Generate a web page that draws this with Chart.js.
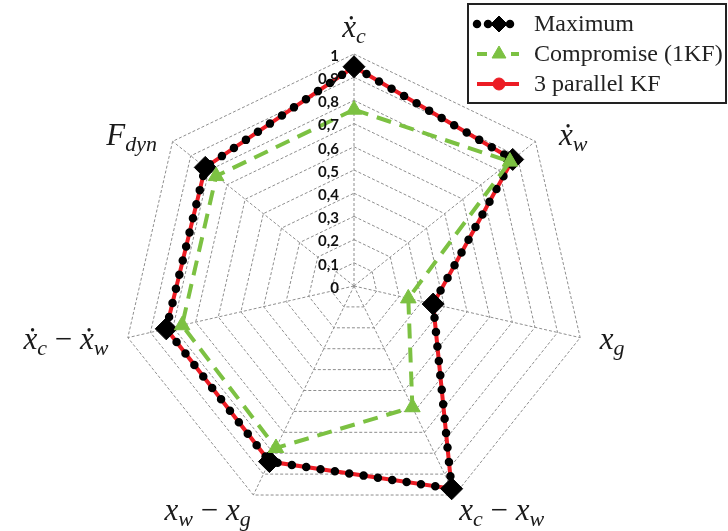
<!DOCTYPE html>
<html>
<head>
<meta charset="utf-8">
<script src="https://cdn.jsdelivr.net/npm/chart.js@4.4.1/dist/chart.umd.min.js"></script>
<style>
  html, body { margin: 0; padding: 0; background: #fff; }
  #wrap { width: 728px; height: 531px; }
</style>
</head>
<body>
<div id="wrap"><canvas id="radarChart" width="728" height="531"></canvas></div>
<script>
// Axis names, underscore marks the subscript part
const axisLabels = ['ẋ_c', 'ẋ_w', 'x_g', 'x_c − x_w', 'x_w − x_g', 'ẋ_c − ẋ_w', 'F_dyn'];
const tickValues = [0, 0.1, 0.2, 0.3, 0.4, 0.5, 0.6, 0.7, 0.8, 0.9, 1];
const tickLabels = ['0', '0,1', '0,2', '0,3', '0,4', '0,5', '0,6', '0,7', '0,8', '0,9', '1'];

// Series
const maximumValues = [0.945, 0.875, 0.35, 0.97, 0.84, 0.83, 0.82];
const compromiseValues = [0.76, 0.86, 0.24, 0.58, 0.775, 0.76, 0.76];
const parallelKFValues = [0.945, 0.875, 0.35, 0.97, 0.84, 0.83, 0.82];

const seriesNames = ['Maximum', 'Compromise (1KF)', '3 parallel KF'];

const green = '#7cc142';
const red = '#ec1c24';
const gridColor = '#8e8e8e';

const mainFont = 'italic 31px "Liberation Serif", "DejaVu Serif", serif';
const subFont = 'italic 22px "Liberation Serif", "DejaVu Serif", serif';
const opFont = '31px "Liberation Serif", "DejaVu Serif", serif';

// Draw something like "x_c − x_w" with real subscripts
function drawMathLabel(ctx, text, x, y, align) {
    let parts = [];
    text.split(' − ').forEach(function(term, k) {
        if (k > 0) parts.push({ str: ' − ', font: opFont, dy: 0 });
        let [main, sub] = term.split('_');
        parts.push({ str: main, font: mainFont, dy: 0 });
        if (sub) parts.push({ str: sub, font: subFont, dy: 6 });
    });
    let total = 0;
    parts.forEach(function(p) {
        ctx.font = p.font;
        p.w = ctx.measureText(p.str).width;
        total += p.w;
    });
    let sx = align === 'left' ? x : (align === 'right' ? x - total : x - total / 2);
    ctx.textAlign = 'left';
    ctx.textBaseline = 'alphabetic';
    parts.forEach(function(p) {
        ctx.font = p.font;
        ctx.fillText(p.str, sx, y + p.dy);
        sx += p.w;
    });
}

// Tick labels sit left of the vertical axis
const tickLabelPlugin = {
    id: 'tickLabels',
    afterDatasetsDraw(chart) {
        const ctx = chart.ctx;
        const scale = chart.scales.r;
        ctx.save();
        ctx.font = 'bold 15px Lato, "Open Sans", sans-serif';
        ctx.fillStyle = '#111';
        ctx.textAlign = 'right';
        ctx.textBaseline = 'middle';
        tickValues.forEach(function(v, i) {
            const y = scale.yCenter - scale.getDistanceFromCenterForValue(v);
            ctx.fillText(tickLabels[i], scale.xCenter - 15, y + 2);
        });
        ctx.restore();
    }
};

// Axis titles with subscripts
const pointLabelPlugin = {
    id: 'mathPointLabels',
    afterDraw(chart) {
        const ctx = chart.ctx;
        const scale = chart.scales.r;
        ctx.save();
        ctx.fillStyle = '#1a1a1a';
        axisLabels.forEach(function(label, i) {
            const pos = scale.getPointPosition(i, scale.drawingArea + 20);
            const angle = scale.getIndexAngle(i);
            const s = Math.sin(angle);
            const c = Math.cos(angle);
            let align = 'center';
            let dx = 0;
            let dy = 7;
            if (s > 0.1) align = 'left';
            if (s < -0.1) align = 'right';
            // upper diagonal labels sit a bit lower, next to the vertex
            if (c > 0.3 && Math.abs(s) > 0.1) {
                dy += 9;
                dx = s > 0 ? 8 : 0;
            }
            if (c < -0.5) dx = s > 0 ? -4 : 6;
            if (c > 0.9) dy = 3;
            drawMathLabel(ctx, label, pos.x + dx, pos.y + dy, align);
        });
        ctx.restore();
    }
};

// Boxed legend in the top right corner
const legendBoxPlugin = {
    id: 'legendBox',
    afterDraw(chart) {
        const ctx = chart.ctx;
        const helpers = Chart.helpers;
        ctx.save();
        ctx.fillStyle = '#fff';
        ctx.fillRect(468, 4, 258, 99);
        ctx.strokeStyle = '#222';
        ctx.lineWidth = 2;
        ctx.strokeRect(468, 4, 258, 99);
        const rows = [24, 54, 84];
        chart.data.datasets.forEach(function(ds, i) {
            const y = rows[i];
            ctx.save();
            ctx.strokeStyle = ds.borderColor;
            ctx.lineWidth = ds.borderWidth;
            ctx.lineCap = ds.borderCapStyle || 'butt';
            ctx.setLineDash(ds.legendDash || ds.borderDash || []);
            ctx.beginPath();
            ctx.moveTo(477, y);
            ctx.lineTo(519, y);
            ctx.stroke();
            ctx.restore();
            ctx.save();
            ctx.fillStyle = ds.pointBackgroundColor;
            ctx.strokeStyle = ds.pointBorderColor;
            ctx.lineWidth = 1;
            helpers.drawPoint(ctx, { pointStyle: ds.pointStyle, radius: ds.legendRadius, rotation: 0, borderWidth: 1 }, 499, y);
            ctx.restore();
            ctx.fillStyle = '#222';
            ctx.font = '24px "Liberation Serif", "DejaVu Serif", serif';
            ctx.textAlign = 'left';
            ctx.textBaseline = 'middle';
            ctx.fillText(ds.label, 534, y + 1);
        });
        ctx.restore();
    }
};

const radarData = {
    labels: axisLabels,
    datasets: [{
        label: seriesNames[0],
        data: maximumValues,
        order: 1,
        fill: false,
        backgroundColor: 'transparent',
        borderColor: '#000',
        borderWidth: 8.5,
        borderDash: [0, 14.5],
        legendDash: [0, 11],
        borderCapStyle: 'round',
        pointStyle: 'rectRot',
        pointRadius: 11,
        legendRadius: 8,
        pointBorderWidth: 1,
        pointBackgroundColor: '#000',
        pointBorderColor: '#000'
    }, {
        label: seriesNames[1],
        data: compromiseValues,
        order: 0,
        fill: false,
        backgroundColor: 'transparent',
        borderColor: green,
        borderWidth: 4,
        borderDash: [15, 9],
        legendDash: [10, 24],
        pointStyle: 'triangle',
        pointRadius: 9,
        legendRadius: 8,
        pointBorderWidth: 1,
        pointBackgroundColor: green,
        pointBorderColor: green
    }, {
        label: seriesNames[2],
        data: parallelKFValues,
        order: 2,
        fill: false,
        backgroundColor: 'transparent',
        borderColor: red,
        borderWidth: 4,
        pointStyle: 'circle',
        pointRadius: 6,
        legendRadius: 6,
        pointBorderWidth: 1,
        pointBackgroundColor: red,
        pointBorderColor: red
    }]
};

const radarChart = new Chart(document.getElementById('radarChart'), {
    type: 'radar',
    data: radarData,
    options: {
        responsive: false,
        animation: false,
        events: [],
        layout: {
            padding: { left: 122, right: 142, top: 54, bottom: 13 }
        },
        elements: {
            line: { tension: 0 }
        },
        plugins: {
            legend: { display: false },
            tooltip: { enabled: false }
        },
        scales: {
            r: {
                min: 0,
                max: 1,
                ticks: { display: false, stepSize: 0.1 },
                pointLabels: { display: false },
                grid: { color: gridColor, lineWidth: 1 },
                border: { dash: [3, 2] },
                angleLines: { color: gridColor, lineWidth: 1, borderDash: [3, 2] }
            }
        }
    },
    plugins: [tickLabelPlugin, pointLabelPlugin, legendBoxPlugin]
});
</script>
</body>
</html>
